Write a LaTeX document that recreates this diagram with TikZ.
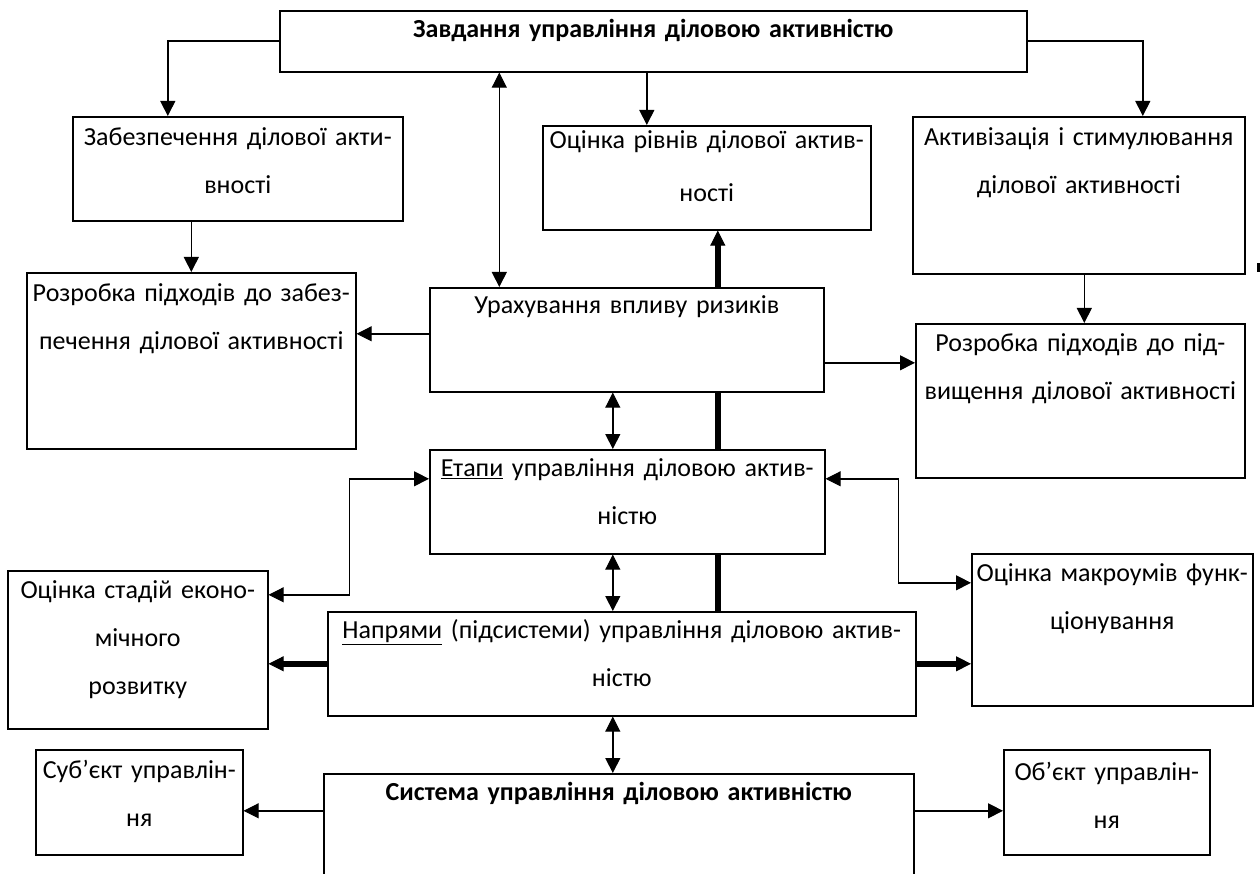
\documentclass[tikz,border=0pt]{standalone}
\usepackage{fontspec}
\setmainfont{Carlito}
\usetikzlibrary{arrows.meta}

\newcommand{\fs}{\fontsize{26}{48}\selectfont}

\tikzset{
  wtip/.tip={Triangle[length=15pt,width=15pt,line width=1pt]},
  blk/.style={draw, fill=white, line width=1.6pt, align=center, inner sep=0pt, anchor=north west, font=\fs},
  sz/.style n args={3}{text width=#1, text height=#2, text depth=#3},
  con/.style={line width=1.6pt, -wtip},
  dcon/.style={line width=1.6pt, wtip-wtip},
  fat/.style={line width=6pt},
  fatcon/.style={fat, -wtip}
}

\begin{document}
\begin{tikzpicture}[x=1pt, y=-1pt]
  \useasboundingbox (0,0) rectangle (1260,874);
  \clip (0,0) rectangle (1260,874);

  % Top row
  \node[blk, font=\fs\bfseries, sz={747pt}{27pt}{34pt}] (task) at (279,10) {Завдання управління діловою активністю};
  \node[blk, sz={330pt}{29pt}{75pt}] (zabezp) at (72,116) {Забезпечення ділової акти-\\вності};
  \node[blk, sz={328pt}{23pt}{81pt}] (otsrivn) at (542,125) {Оцінка рівнів ділової актив-\\[5pt]ності};
  \node[blk, sz={332pt}{29pt}{128pt}] (aktyv) at (912,116) {Активізація і стимулювання\\ділової активності};

  % Middle
  \node[blk, sz={329pt}{29pt}{147pt}] (rozrobl) at (26,272) {Розробка підходів до забез-\\печення ділової активності};
  \node[blk, sz={394pt}{26pt}{78pt}] (urakh) at (429,287) {Урахування впливу ризиків};
  \node[blk, sz={329pt}{28pt}{126pt}] (rozrobr) at (915,323) {Розробка підходів до під-\\вищення ділової активності};
  \node[blk, sz={395pt}{27pt}{77pt}] (etapy) at (429,449) {\underline{Етапи} управління діловою актив-\\ністю};

  % Lower part
  \node[blk, sz={260pt}{28pt}{130pt}] (otsstad) at (7,570) {Оцінка стадій еконо-\\мічного\\розвитку};
  \node[blk, sz={588pt}{27pt}{77pt}] (napr) at (327,611) {\underline{Напрями} (підсистеми) управління діловою актив-\\ністю};
  \node[blk, sz={281pt}{28pt}{124pt}] (otsmakro) at (971,553) {Оцінка макроумів функ-\\ціонування};
  \node[blk, sz={207pt}{29pt}{76pt}] (subj) at (35,749) {Суб’єкт управлін-\\ня};
  \node[blk, font=\fs\bfseries, sz={590pt}{27pt}{113pt}] (sys) at (323,773) {Система управління діловою активністю};
  \node[blk, sz={206pt}{31pt}{74pt}] (obj) at (1003,749) {Об’єкт управлін-\\ня};

  % Helper points
  \coordinate (c3) at ([xshift=-6.5pt]task.south);
  \coordinate (c4) at ([xshift=-154pt]task.south);
  \coordinate (c6) at ([xshift=4pt]rozrobr.north);
  \coordinate (c7) at ([yshift=6pt]urakh.west);
  \coordinate (c8) at ([yshift=-23pt]urakh.east);
  \coordinate (sp) at ([xshift=91pt]urakh.north);
  \coordinate (dv) at ([xshift=-14pt]urakh.south);
  \coordinate (e1) at ([yshift=23pt]etapy.west);
  \coordinate (e2) at ([yshift=55pt]otsstad.east);
  \coordinate (e3) at ([yshift=23pt]etapy.east);
  \coordinate (e4) at ([yshift=47pt]otsmakro.west);
  \coordinate (s1) at ([yshift=-8.5pt]subj.east);
  \coordinate (o1) at ([yshift=-8.5pt]obj.west);

  % From the task box
  \draw[con] (task.west) -| ([xshift=-70pt]zabezp.north);
  \draw[con] (task.east) -| ([xshift=64pt]aktyv.north);
  \draw[con] (c3) -- (c3 |- otsrivn.north);
  \draw[dcon] (c4) -- (c4 |- urakh.north);
  \draw[con] (rozrobl.north |- zabezp.south) -- (rozrobl.north);
  \draw[con] (c6 |- aktyv.south) -- (c6);

  % Risks
  \draw[con] (c7) -- (c7 -| rozrobl.east);
  \draw[con] (c8) -- (c8 -| rozrobr.west);

  % Thick spine
  \draw[fatcon] (sp |- urakh.north) -- (sp |- otsrivn.south);
  \draw[fat] (sp |- etapy.north) -- (sp |- urakh.south);
  \draw[fat] (sp |- napr.north) -- (sp |- etapy.south);

  % Vertical links
  \draw[dcon] (dv |- urakh.south) -- (dv |- etapy.north);
  \draw[dcon] (dv |- etapy.south) -- (dv |- napr.north);
  \draw[dcon] (dv |- napr.south) -- (dv |- sys.north);

  % Stages
  \draw[dcon] (e2) -- ++(81,0) |- (e1);
  \draw[dcon] (e3) -- ++(73,0) |- (e4);

  % Directions
  \draw[fatcon] (napr.west) -- (napr.west -| otsstad.east);
  \draw[fatcon] (napr.east) -- (napr.east -| otsmakro.west);

  % System
  \draw[con] (s1 -| sys.west) -- (s1);
  \draw[con] (o1 -| sys.east) -- (o1);

  \fill (1257,263) rectangle (1261,272);
\end{tikzpicture}
\end{document}
